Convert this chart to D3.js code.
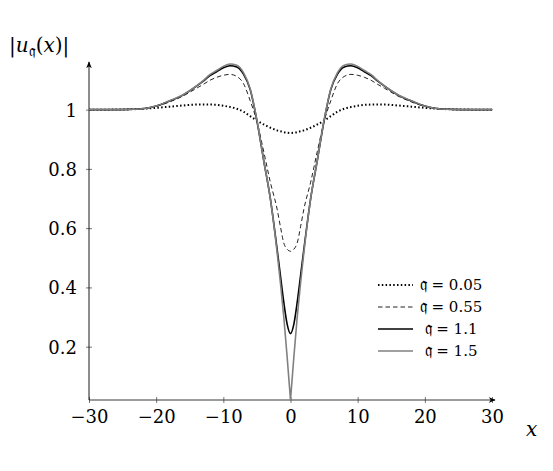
<!DOCTYPE html>
<html>
<head>
<meta charset="utf-8">
<script src="https://cdn.jsdelivr.net/npm/d3@7"></script>
<style>
  body { margin: 0; background: #fff; }
  svg { display: block; }
  text { font-family: "DejaVu Serif", "Liberation Serif", serif; fill: #000; }
</style>
</head>
<body>
<svg></svg>
<script>
let width = 553;
let height = 471;

// sample positions along x
let xs = [-30, -27, -24, -22, -20, -18, -16, -14, -13, -12, -11, -10, -9, -8, -7, -6, -5, -4, -3, -2, -1.5, -1, -0.5, 0,
          0.5, 1, 1.5, 2, 3, 4, 5, 6, 7, 8, 9, 10, 11, 12, 13, 14, 16, 18, 20, 22, 24, 27, 30];

// |u| for each q
let q005 = [1.000, 1.000, 1.001, 1.003, 1.006, 1.010, 1.014, 1.017, 1.017, 1.017, 1.016, 1.013, 1.009, 1.003, 0.993, 0.978, 0.963, 0.950, 0.939, 0.930, 0.927, 0.924, 0.922, 0.921,
            0.922, 0.924, 0.927, 0.930, 0.939, 0.950, 0.963, 0.978, 0.993, 1.003, 1.009, 1.013, 1.016, 1.017, 1.017, 1.017, 1.014, 1.010, 1.006, 1.003, 1.001, 1.000, 1.000];
let q055 = [1.000, 1.000, 1.001, 1.003, 1.011, 1.026, 1.046, 1.072, 1.085, 1.099, 1.109, 1.116, 1.119, 1.112, 1.088, 1.030, 0.960, 0.860, 0.755, 0.665, 0.605, 0.550, 0.529, 0.522,
            0.529, 0.550, 0.605, 0.665, 0.755, 0.860, 0.960, 1.030, 1.088, 1.112, 1.119, 1.116, 1.109, 1.099, 1.085, 1.072, 1.046, 1.026, 1.011, 1.003, 1.001, 1.000, 1.000];
let q11 = [1.000, 1.000, 1.001, 1.003, 1.012, 1.029, 1.049, 1.079, 1.096, 1.115, 1.128, 1.141, 1.148, 1.144, 1.120, 1.068, 0.962, 0.830, 0.700, 0.530, 0.440, 0.350, 0.276, 0.244,
           0.276, 0.350, 0.440, 0.530, 0.700, 0.830, 0.962, 1.068, 1.120, 1.144, 1.148, 1.141, 1.128, 1.115, 1.096, 1.079, 1.049, 1.029, 1.012, 1.003, 1.001, 1.000, 1.000];
let q15 = [1.000, 1.000, 1.001, 1.003, 1.012, 1.030, 1.050, 1.080, 1.098, 1.118, 1.132, 1.146, 1.154, 1.150, 1.125, 1.070, 0.965, 0.830, 0.700, 0.520, 0.415, 0.300, 0.165, 0.020,
           0.165, 0.300, 0.415, 0.520, 0.700, 0.830, 0.965, 1.070, 1.125, 1.150, 1.154, 1.146, 1.132, 1.118, 1.098, 1.080, 1.050, 1.030, 1.012, 1.003, 1.001, 1.000, 1.000];

let xTicks = [-30, -20, -10, 0, 10, 20, 30];
let yTicks = [0.2, 0.4, 0.6, 0.8, 1];
let legendLabels = ["𝔮 = 0.05", "𝔮 = 0.55", "𝔮 = 1.1", "𝔮 = 1.5"];

let series = [
  {values: q005, color: "#000", w: 2, dash: "1.5,2.3", cusp: false},
  {values: q055, color: "#222", w: 1, dash: "4.5,3", cusp: false},
  {values: q11, color: "#000", w: 1.6, dash: null, cusp: false},
  {values: q15, color: "#808080", w: 1.6, dash: null, cusp: true}
];

let svg = d3.select("svg").attr("width", width).attr("height", height);

let yMin = d3.min(q15);
let yMax = d3.max(q15);

let xScale = d3.scaleLinear().domain([-30, 30]).range([89, 492]);
let yScale = d3.scaleLinear().domain([yMin, yMax]).range([400, 64]);

let defs = svg.append("defs");
defs.append("marker")
    .attr("id", "arr")
    .attr("viewBox", "0 0 10 10")
    .attr("refX", 9).attr("refY", 5)
    .attr("markerWidth", 7).attr("markerHeight", 7)
    .attr("markerUnits", "userSpaceOnUse")
    .attr("orient", "auto")
    .append("path")
    .attr("d", "M0,1 L10,5 L0,9 L3,5 Z")
    .attr("fill", "#000");

// axes (lines with arrow tips, ticks drawn by d3 axis)
let xAxis = d3.axisBottom(xScale).tickValues(xTicks).tickSize(0)
              .tickFormat(d => d < 0 ? "\u2212" + Math.abs(d) : d);
let gx = svg.append("g").attr("transform", "translate(0," + yScale(yMin) + ")").call(xAxis);
gx.select(".domain").remove();
gx.selectAll("text").attr("font-size", 18).attr("dy", "1.1em")
  .style("font-family", "'DejaVu Serif', serif");
gx.selectAll(".tick").append("line").attr("y1", -3).attr("y2", 3).attr("stroke", "#555").attr("stroke-width", 0.8);

let yAxis = d3.axisLeft(yScale).tickValues(yTicks).tickSize(0).tickFormat(d => d);
let gy = svg.append("g").attr("transform", "translate(" + xScale(-30) + ",0)").call(yAxis);
gy.select(".domain").remove();
gy.selectAll("text").attr("font-size", 18).attr("x", -12).attr("dy", "0.36em")
  .style("font-family", "'DejaVu Serif', serif");
gy.selectAll(".tick").append("line").attr("x1", -3).attr("x2", 3).attr("stroke", "#555").attr("stroke-width", 0.8);

svg.append("line")
   .attr("x1", xScale(-30)).attr("x2", xScale(30) + 3)
   .attr("y1", yScale(yMin)).attr("y2", yScale(yMin))
   .attr("stroke", "#222").attr("stroke-width", 0.9)
   .attr("marker-end", "url(#arr)");
svg.append("line")
   .attr("x1", xScale(-30)).attr("x2", xScale(-30))
   .attr("y1", yScale(yMin)).attr("y2", yScale(yMax) - 2)
   .attr("stroke", "#000").attr("stroke-width", 0.9)
   .attr("marker-end", "url(#arr)");

// curves
let line = d3.line()
  .x(d => xScale(d[0]))
  .y(d => yScale(d[1]))
  .curve(d3.curveMonotoneX);

series.forEach(s => {
  let pts = xs.map((x, i) => [x, s.values[i]]);
  let d;
  if (s.cusp) {
    // sharp tip at x = 0: draw both halves separately
    d = line(pts.filter(p => p[0] <= 0)) + line(pts.filter(p => p[0] >= 0));
  } else {
    d = line(pts);
  }
  svg.append("path")
     .attr("d", d)
     .attr("fill", "none")
     .attr("stroke", s.color)
     .attr("stroke-width", s.w)
     .attr("stroke-linejoin", "round")
     .attr("stroke-linecap", s.cusp ? "round" : "butt")
     .attr("stroke-dasharray", s.dash);
});

// legend
let legend = svg.append("g");
series.forEach((s, i) => {
  let y = 285 + i * 22;
  legend.append("line")
        .attr("x1", 378).attr("x2", 413)
        .attr("y1", y).attr("y2", y)
        .attr("stroke", s.color).attr("stroke-width", s.w)
        .attr("stroke-dasharray", s.dash);
  let t = legend.append("text")
        .attr("x", 451).attr("y", y).attr("dy", "0.34em")
        .attr("text-anchor", "middle")
        .attr("font-size", 15);
  t.append("tspan").attr("font-size", 17).text(legendLabels[i].slice(0, 2));
  t.append("tspan").text(legendLabels[i].slice(2));
});

// axis labels
let yl = svg.append("text").attr("x", 9).attr("y", 52).attr("font-size", 20);
yl.append("tspan").text("|");
yl.append("tspan").attr("font-style", "italic").text("u");
yl.append("tspan").attr("font-size", 15).attr("dy", 4).text("𝔮");
yl.append("tspan").attr("dy", -4).text("(");
yl.append("tspan").attr("font-style", "italic").text("x");
yl.append("tspan").text(")|");

svg.append("text").attr("x", 526).attr("y", 436).attr("font-size", 20)
   .attr("font-style", "italic").text("x");
</script>
</body>
</html>
